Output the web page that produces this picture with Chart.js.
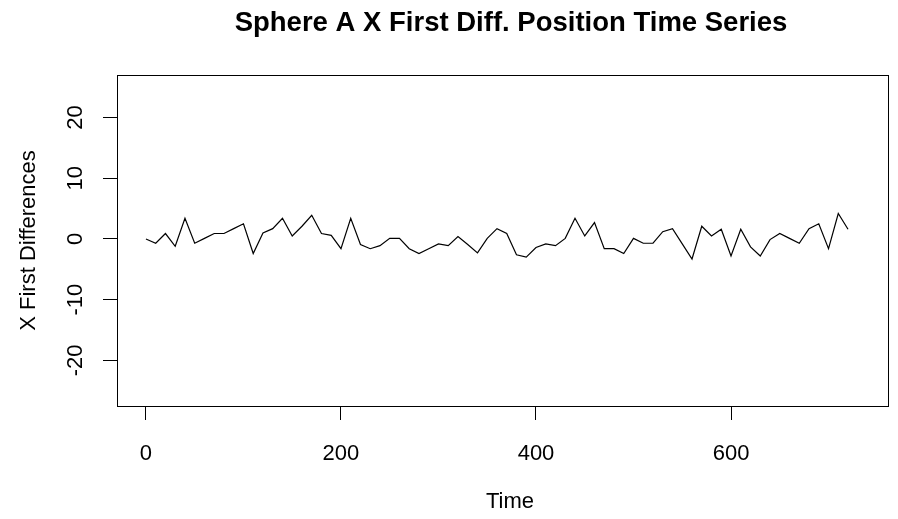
<!DOCTYPE html>
<html>
<head>
<meta charset="utf-8">
<script src="https://cdn.jsdelivr.net/npm/chart.js@4.4.1/dist/chart.umd.min.js"></script>
<style>
  html, body { margin: 0; padding: 0; background: #fff; }
  canvas { display: block; }
</style>
</head>
<body>
<canvas id="chart" width="898" height="519"></canvas>
<script>
// time index (every 10 steps) and first differences of sphere A's x position
const timeSteps = [0, 10, 20, 30, 40, 50, 60, 70, 80, 90,
  100, 110, 120, 130, 140, 150, 160, 170, 180, 190,
  200, 210, 220, 230, 240, 250, 260, 270, 280, 290,
  300, 310, 320, 330, 340, 350, 360, 370, 380, 390,
  400, 410, 420, 430, 440, 450, 460, 470, 480, 490,
  500, 510, 520, 530, 540, 550, 560, 570, 580, 590,
  600, 610, 620, 630, 640, 650, 660, 670, 680, 690,
  700, 710, 720];
const xFirstDiff = [0, -0.7, 0.9, -1.2, 3.4, -0.7, 0.1, 0.9, 0.9, 1.7,
  2.5, -2.4, 1.0, 1.7, 3.4, 0.5, 2.1, 3.9, 0.9, 0.6,
  -1.6, 3.4, -0.9, -1.6, -1.1, 0.1, 0.1, -1.6, -2.4, -1.6,
  -0.8, -1.1, 0.4, -0.9, -2.3, 0.1, 1.7, 0.9, -2.6, -3.0,
  -1.4, -0.8, -1.1, 0.1, 3.4, 0.5, 2.7, -1.6, -1.6, -2.4,
  0.1, -0.7, -0.7, 1.2, 1.7, -0.8, -3.3, 2.1, 0.5, 1.6,
  -2.8, 1.6, -1.3, -2.8, -0.1, 0.9, 0.1, -0.7, 1.7, 2.5,
  -1.6, 4.2, 1.6];
const xTicks = [0, 200, 400, 600];
const yTicks = [-20, -10, 0, 10, 20];

const FONT = '"Liberation Sans", Arial, sans-serif';

// box around the plot, title, rotated y tick labels and axis titles (R style)
const rLabels = {
  id: 'rLabels',
  afterDraw(chart) {
    const { ctx, chartArea: a, scales } = chart;
    ctx.save();
    ctx.strokeStyle = '#000';
    ctx.lineWidth = 1;
    ctx.strokeRect(Math.round(a.left) + 0.5, Math.round(a.top) + 0.5,
      Math.round(a.right - a.left), Math.round(a.bottom - a.top));

    ctx.fillStyle = '#000';
    ctx.textAlign = 'center';
    ctx.textBaseline = 'middle';

    ctx.font = 'bold 27.5px ' + FONT;
    ctx.fillText('Sphere A X First Diff. Position Time Series', 511, 23);

    ctx.font = '22px ' + FONT;
    ctx.fillText('Time', 510, 502);

    yTicks.forEach(v => {
      const y = scales.y.getPixelForValue(v);
      ctx.save();
      ctx.translate(76, y);
      ctx.rotate(-Math.PI / 2);
      ctx.fillText(String(v), 0, 0);
      ctx.restore();
    });

    ctx.save();
    ctx.translate(29, (a.top + a.bottom) / 2);
    ctx.rotate(-Math.PI / 2);
    ctx.fillText('X First Differences', 0, 0);
    ctx.restore();
    ctx.restore();
  }
};

new Chart(document.getElementById('chart'), {
  type: 'line',
  data: {
    datasets: [{
      data: timeSteps.map((t, i) => ({ x: t, y: xFirstDiff[i] })),
      borderColor: '#000',
      borderWidth: 1.2,
      pointRadius: 0,
      tension: 0,
      fill: false
    }]
  },
  options: {
    responsive: false,
    devicePixelRatio: 1,
    animation: false,
    layout: { padding: { left: 0, right: 10, top: 75, bottom: 0 } },
    plugins: {
      legend: { display: false },
      title: { display: false },
      tooltip: { enabled: false }
    },
    scales: {
      x: {
        type: 'linear',
        min: -29.7,
        max: 761,
        afterBuildTicks: s => { s.ticks = xTicks.map(v => ({ value: v })); },
        afterFit: s => { s.height = 113; },
        border: { display: false },
        grid: { drawOnChartArea: false, drawTicks: true, tickLength: 14, color: '#000' },
        ticks: {
          color: '#000',
          font: { family: FONT, size: 22 },
          padding: 21,
          maxRotation: 0,
          autoSkip: false
        }
      },
      y: {
        type: 'linear',
        min: -27.5,
        max: 27.0,
        afterBuildTicks: s => { s.ticks = yTicks.map(v => ({ value: v })); },
        afterFit: s => { s.width = 117; },
        border: { display: false },
        grid: { drawOnChartArea: false, drawTicks: true, tickLength: 14, color: '#000' },
        ticks: { display: false }
      }
    }
  },
  plugins: [rLabels]
});
</script>
</body>
</html>
